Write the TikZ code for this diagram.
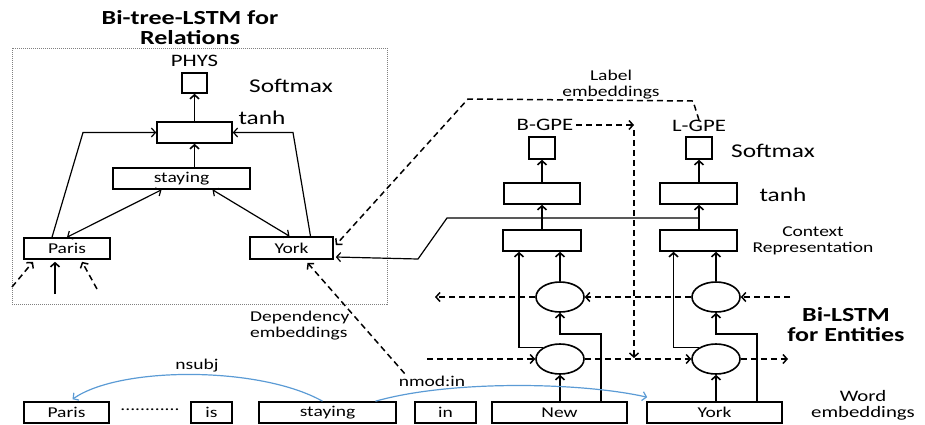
\documentclass[tikz,border=0pt]{standalone}
\usepackage{fontspec}
\setmainfont{Carlito}[FakeStretch=1.3]
\usetikzlibrary{arrows.meta,calc,shapes.geometric}
\definecolor{depblue}{RGB}{91,155,213}
\newcommand\fsn{\fontsize{15}{16}\selectfont}
\newcommand\fsm{\fontsize{17.5}{18}\selectfont}
\newcommand\fsw{\fontsize{16}{16}\selectfont}
\newcommand\fsl{\fontsize{19.5}{20}\selectfont}
\newcommand\fsb{\fontsize{20}{20}\selectfont\bfseries}
\begin{document}
\begin{tikzpicture}[x=1pt,y=-1pt,
  box/.style={draw,line width=1.6pt,inner sep=0pt,minimum height=21pt,font=\fsn},
  ell/.style={draw,ellipse,line width=1.6pt,inner sep=0pt,minimum width=48pt,minimum height=30pt},
  lbl/.style={inner sep=0pt,font=\fsn,align=center},
  mid/.style={inner sep=0pt,font=\fsm},
  big/.style={inner sep=0pt,font=\fsl},
  head/.style={inner sep=0pt,font=\fsb,align=center},
  arr/.style={line width=1.6pt,-{Straight Barb[length=4pt,width=9pt]}},
  thinarr/.style={line width=1.2pt,-{Straight Barb[length=4pt,width=9pt]}},
  darr/.style={line width=1.2pt,{Straight Barb[length=4pt,width=9pt]}-{Straight Barb[length=4pt,width=9pt]}},
  dsh/.style={line width=1.5pt,dash pattern=on 6pt off 4pt},
  dasharr/.style={dsh,-{Straight Barb[length=4pt,width=9pt]}},
  dep/.style={depblue,line width=1.2pt,-{Straight Barb[length=4pt,width=9pt]}}
]
\useasboundingbox (0,0) rectangle (925,424);

% ---------- left: Bi-tree-LSTM ----------
\node[head] (title) at (190,28) {Bi-tree-LSTM for\\Relations};
\draw[gray,line width=0.8pt,dash pattern=on 1pt off 1pt] (12,48) rectangle (387,304);

\node[mid] (physl) at (194.5,61) {PHYS};
\node[box,minimum width=25pt,minimum height=20pt] (phys) at (194.5,83) {};
\node[big] (smaxL) at (291,86) {Softmax};
\node[box,minimum width=75pt] (tanhR) at (194.5,132.5) {};
\node[big] (tanhLbl) at (262,118) {tanh};
\node[box,minimum width=137pt] (stayT) at (181.5,178.5) {staying};
\node[box,minimum width=86pt] (parisT) at (67,248.5) {Paris};
\node[box,minimum width=83pt,minimum height=22pt] (yorkT) at (291.5,248) {York};

\draw[arr] (tanhR.north) -- (phys.south);
\draw[arr] (tanhR.south |- stayT.north) -- (tanhR.south);
\draw[darr] ($(stayT.south)+(-20,0)$) -- (parisT.north);
\draw[darr] ($(stayT.south)+(31,0)$) -- ($(yorkT.north)+(-2,0)$);
\coordinate (pbend) at (83,132.5);
\coordinate (ybend) at (293,132.5);
\draw[thinarr] ($(parisT.north)+(-15,0)$) -- (pbend) -- (tanhR.west);
\draw[thinarr] ($(yorkT.north)+(19,0)$) -- (ybend) -- (tanhR.east);

\coordinate (pin1) at (12,287);
\coordinate (pin2) at (55,294);
\coordinate (pin3) at (97,289);
\draw[dasharr] (pin1) -- ($(parisT.south)+(-34,2)$);
\draw[arr] (pin2) -- ($(parisT.south)+(-12,2)$);
\draw[dasharr] (pin3) -- ($(parisT.south)+(15,2)$);

% ---------- right: Bi-LSTM columns ----------
\node[mid] (bgpe) at (545,125) {B-GPE};
\node[box,minimum width=26pt,minimum height=22pt] (smB) at (542,148) {};
\node[box,minimum width=76pt] (tanhB) at (542,193.5) {};
\node[box,minimum width=78pt] (ctxB) at (542,240.5) {};
\node[ell] (upB) at (560,297) {};
\node[ell] (lowB) at (560,359) {};

\node[mid] (lgpe) at (699,126) {L-GPE};
\node[box,minimum width=26pt,minimum height=22pt] (smL) at (699,148) {};
\node[box,minimum width=77pt] (tanhL) at (698.5,193.5) {};
\node[box,minimum width=77pt] (ctxL) at (698.5,240.5) {};
\node[ell] (upL) at (716,297) {};
\node[ell] (lowL) at (716,359) {};

\node[big] (smaxR) at (773,151) {Softmax};
\node[big] (tanhRl) at (783,195) {tanh};
\node[lbl] (ctxlbl) at (813,241) {Context\\Representation};
\node[head] (bilstm) at (846,325) {Bi-LSTM\\for Entities};
\node[lbl,font=\fsw] (wordemb) at (863,405) {Word\\embeddings};

% word boxes
\node[box,minimum width=85pt] (parisW) at (66.5,412.5) {Paris};
\node[lbl] (dots) at (150,410) {............};
\node[box,minimum width=41pt] (isW) at (211.5,412.5) {is};
\node[box,minimum width=137pt] (stayW) at (327.5,412.5) {staying};
\node[box,minimum width=61pt] (inW) at (445.5,412.5) {in};
\node[box,minimum width=135pt] (newW) at (559.5,412.5) {New};
\node[box,minimum width=135pt] (yorkW) at (714.5,412.5) {York};

% column B connectors
\draw[arr] (smB.south |- tanhB.north) -- (smB.south);
\draw[arr] (smB.south |- ctxB.north) -- (smB.south |- tanhB.south);
\draw[arr] (upB.north) -- (upB.north |- ctxB.south);
\draw[arr] (lowB.145) -| ($(ctxB.south)+(-23,0)$);
\draw[arr] (newW.north -| lowB.south) -- (lowB.south);
\draw[arr] ($(newW.north)+(41.5,0)$) |- ($(upB.south)+(0,21)$) -- (upB.south);

% column L connectors
\draw[arr] (smL.south |- tanhL.north) -- (smL.south);
\draw[arr] (smL.south |- ctxL.north) -- (smL.south |- tanhL.south);
\draw[arr] (upL.north) -- (upL.north |- ctxL.south);
\draw[arr] (lowL.145) -| ($(ctxL.south)+(-25,0)$);
\draw[arr] (yorkW.north -| lowL.south) -- (lowL.south);
\draw[arr] ($(yorkW.north)+(42.5,0)$) |- ($(upL.south)+(0,21)$) -- (upL.south);

% dashed recurrent connections
\coordinate (rin1) at (790,297);
\coordinate (lout1) at (435,297);
\coordinate (lin2) at (427,359);
\coordinate (rout2) at (788,359);
\draw[dasharr] (rin1) -- (upL.east);
\draw[dasharr] (upL.west) -- (upB.east);
\draw[dasharr] (upB.west) -- (lout1);
\draw[dasharr] (lin2) -- (lowB.west);
\draw[dasharr] (lowB.east) -- (lowL.west);
\draw[dasharr] (lowL.east) -- (rout2);

% label embedding B-GPE -> next step
\coordinate (lbcorner) at (634,125);
\draw[dasharr] ($(bgpe.east)+(3,0)$) -- (lbcorner);
\draw[dasharr] ($(lbcorner)+(0,5)$) -- ($(lbcorner)+(0,233)$);

% label embeddings to York (relation tree)
\node[lbl] (labemb) at (611,85) {Label\\embeddings};
\draw[dasharr] (lgpe.north) -- (693,101) -- (468,99) -- ($(yorkT.east)+(2,-3)$);

% context representation to York
\coordinate (cj) at (smL.south |- 0,218);
\draw[thinarr] (cj) -- (447,218) -- (418,259) -- ($(yorkT.east)+(2,9)$);

% dependency embeddings
\node[lbl,align=left,anchor=west] (depemb) at (250,326) {Dependency\\embeddings};
\node[lbl] (nmodl) at (432,381) {nmod:in};
\node[lbl] (nsubjl) at (197,366) {nsubj};
\draw[dasharr] ($(nmodl.north west)+(6,-2)$) -- ($(yorkT.south)+(16,3)$);

% dependency arcs
\draw[dep] ($(stayW.north)+(-5,0)$) .. controls (260,366) and (120,366) .. ($(parisW.north)+(6,-2)$);
\draw[dep] ($(stayW.north)+(48,0)$) .. controls (450,380) and (580,382) .. ($(yorkW.north west)+(1,-4)$);
\end{tikzpicture}
\end{document}
